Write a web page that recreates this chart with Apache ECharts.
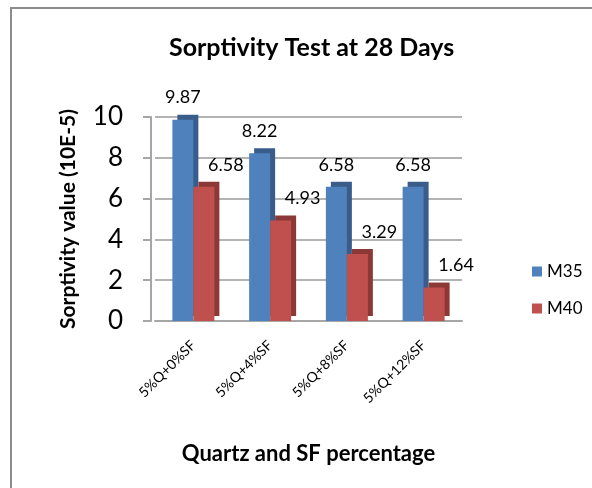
<!DOCTYPE html>
<html>
<head>
<meta charset="utf-8">
<title>Sorptivity Test at 28 Days</title>
<script src="https://cdn.jsdelivr.net/npm/echarts@6/dist/echarts.min.js"></script>
<style>
  html, body { margin: 0; padding: 0; background: #fff; }
  .chart { width: 592px; height: 488px; }
</style>
</head>
<body>
<div class="chart"></div>
<script>
// 数据
let categories = ['5%Q+0%SF', '5%Q+4%SF', '5%Q+8%SF', '5%Q+12%SF']
let m35 = [9.87, 8.22, 6.58, 6.58]
let m40 = [6.58, 4.93, 3.29, 1.64]
let yTicks = [0, 2, 4, 6, 8, 10]

;(function () {
  let myChart = echarts.init(document.querySelector('.chart'))
  let font = 'Lato, "Open Sans", sans-serif'

  let option = {
    backgroundColor: '#fff',
    textStyle: { fontFamily: font },
    title: {
      text: 'Sorptivity Test at 28 Days',
      left: 164,
      top: 30,
      textStyle: { fontSize: 25, fontWeight: 'bold', color: '#000', fontFamily: font }
    },
    // 外框
    graphic: [
      {
        type: 'rect',
        shape: { x: 11, y: 8, width: 620, height: 520 },
        style: { fill: 'none', stroke: '#8c8c8c', lineWidth: 2 },
        silent: true
      }
    ],
    legend: {
      orient: 'vertical',
      left: 527,
      top: 258,
      itemWidth: 10,
      itemHeight: 10,
      itemGap: 20,
      icon: 'rect',
      textStyle: { fontSize: 17, color: '#000', fontFamily: font },
      data: ['M35', 'M40']
    },
    grid: {
      left: 155,
      right: 130,
      top: 117,
      bottom: 167
    },
    xAxis: {
      type: 'category',
      data: categories,
      name: 'Quartz and SF percentage',
      nameLocation: 'middle',
      nameGap: 122,
      nameTextStyle: { fontSize: 22, fontWeight: 'bold', color: '#000', fontFamily: font },
      axisTick: { show: false },
      axisLine: { lineStyle: { color: '#a6a6a6', width: 2 } },
      axisLabel: {
        rotate: 45,
        margin: 22,
        fontSize: 14,
        color: '#000',
        fontFamily: font
      }
    },
    yAxis: {
      type: 'value',
      min: yTicks[0],
      max: yTicks[yTicks.length - 1],
      interval: 2,
      offset: 4,
      name: 'Sorptivity value (10E-5)',
      nameLocation: 'middle',
      nameGap: 72,
      nameTextStyle: { fontSize: 21, fontWeight: 'bold', color: '#000', fontFamily: font },
      axisLine: { show: true, lineStyle: { color: '#a6a6a6', width: 2 } },
      axisTick: { show: true, length: 8, lineStyle: { color: '#a6a6a6', width: 2 } },
      axisLabel: { fontSize: 26, color: '#000', margin: 28, fontFamily: font },
      splitLine: { lineStyle: { color: '#b3b3b3', width: 2 } }
    },
    series: [
      {
        name: 'M35',
        type: 'bar',
        data: m35,
        barWidth: 21,
        barGap: '0%',
        itemStyle: {
          color: '#4f81bd',
          // 用偏移阴影模拟立体侧面
          shadowColor: '#385d8a',
          shadowOffsetX: 5,
          shadowOffsetY: -5,
          shadowBlur: 0
        },
        label: {
          show: true,
          position: 'top',
          distance: 13,
          fontSize: 18,
          color: '#000',
          fontFamily: font
        }
      },
      {
        name: 'M40',
        type: 'bar',
        data: m40,
        barWidth: 21,
        itemStyle: {
          color: '#c0504d',
          shadowColor: '#8c3836',
          shadowOffsetX: 5,
          shadowOffsetY: -5,
          shadowBlur: 0
        },
        label: {
          show: true,
          position: 'top',
          distance: 13,
          offset: [22, 0],
          fontSize: 18,
          color: '#000',
          fontFamily: font
        }
      }
    ]
  }

  myChart.setOption(option)
})()
</script>
</body>
</html>
